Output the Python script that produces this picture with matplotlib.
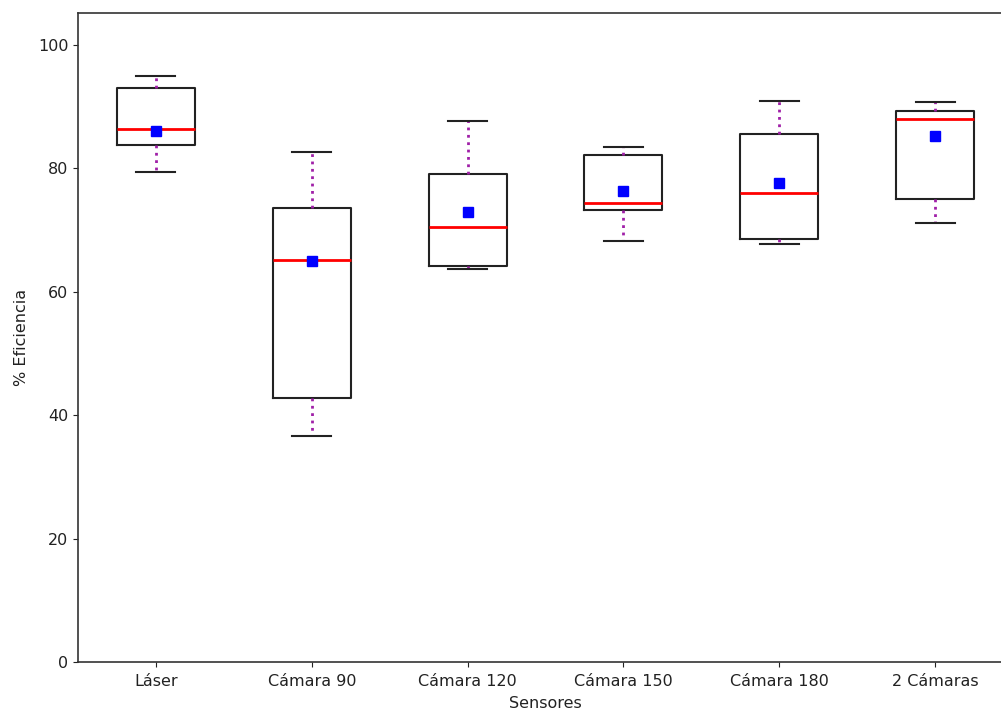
import matplotlib
matplotlib.use("Agg")
import matplotlib.pyplot as plt

categories = ["Láser", "Cámara 90", "Cámara 120", "Cámara 150", "Cámara 180", "2 Cámaras"]
whislo = [79.4, 36.6, 63.7, 68.2, 67.7, 71.2]
q1 = [83.8, 42.8, 64.2, 73.3, 68.6, 75.0]
med = [86.4, 65.2, 70.5, 74.4, 76.0, 88.0]
q3 = [93.0, 73.6, 79.1, 82.2, 85.6, 89.3]
whishi = [95.0, 82.7, 87.7, 83.5, 90.9, 90.8]
means = [86.0, 65.0, 72.9, 76.3, 77.7, 85.3]

stats = []
for i, c in enumerate(categories):
    stats.append(dict(label=c, whislo=whislo[i], q1=q1[i], med=med[i], q3=q3[i],
                      whishi=whishi[i], mean=means[i], fliers=[]))

fig = plt.figure(figsize=(10.01, 7.11), dpi=100)
ax = fig.add_axes([78/1001, 1-662/711, (1013-78)/1001, (662-13)/711])
ax.bxp(stats, widths=0.5, showmeans=True, patch_artist=False,
       boxprops=dict(color='#222222', linewidth=1.5),
       medianprops=dict(color='red', linewidth=2),
       whiskerprops=dict(color='#a020a8', linestyle=':', linewidth=2),
       capprops=dict(color='#222222', linewidth=1.5),
       meanprops=dict(marker='s', markerfacecolor='blue', markeredgecolor='blue', markersize=7))
ax.set_ylim(0, 105.2)
ax.set_xlim(0.5, 6.5)
ax.set_yticks([0, 20, 40, 60, 80, 100])
ax.tick_params(labelsize=11.5, colors='#222222')
ax.tick_params(axis='x', pad=5)
ax.set_xlabel("Sensores", fontsize=11.5, labelpad=5, color='#222222')
ax.set_ylabel("% Eficiencia", fontsize=11.5, labelpad=6, color='#222222')
for s in ax.spines.values():
    s.set_color('#333333')
    s.set_linewidth(1.2)
fig.savefig("out.png", dpi=100)
